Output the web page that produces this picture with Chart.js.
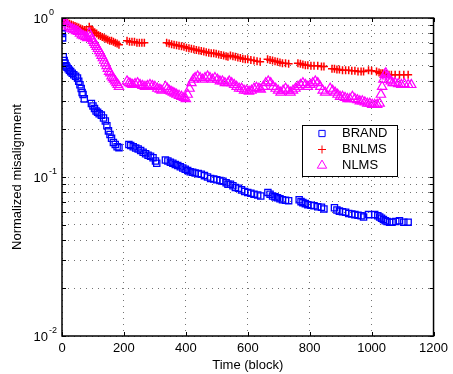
<!DOCTYPE html>
<html>
<head>
<meta charset="utf-8">
<script src="https://cdn.jsdelivr.net/npm/chart.js@4.4.0/dist/chart.umd.min.js"></script>
<style>
  html, body { margin: 0; padding: 0; background: #fff; }
  canvas { display: block; }
</style>
</head>
<body>
<canvas id="myChart" width="453" height="374"></canvas>
<script>
const FONT = "'Liberation Sans', Arial, sans-serif";

// ---- data ----
const seriesNames = ['BRAND', 'BNLMS', 'NLMS'];

const brandT = [0, 1, 2,
  4, 7, 10, 13, 16, 20, 24, 28, 33, 38, 44, 50, 54, 58, 62, 65, 68, 72,
  95, 100, 105, 110, 115, 120, 127, 134, 140, 145, 150, 155, 160, 166, 172, 178, 184,
  216, 222, 230, 238, 246, 254, 262, 270, 278, 286, 294, 302, 306,
  334, 342, 350, 358, 366, 374, 382, 390, 398, 406, 414, 422, 430, 440, 450, 460, 470, 480, 490, 500, 510, 520, 530, 536,
  544, 552, 560, 570, 580, 590, 600, 610, 620, 632, 642,
  665, 672, 680, 688, 696, 704, 712, 722, 732,
  766, 772, 778, 786, 794, 804, 814, 826, 838, 846,
  880, 888, 896, 906, 916, 926, 936, 946, 956, 966, 974,
  990, 1010, 1020, 1026, 1032, 1038, 1044, 1050, 1058, 1066, 1078, 1090, 1104, 1118];
const brandV = [0.87, 0.80, 0.75,
  0.57, 0.54, 0.52, 0.50, 0.49, 0.48, 0.47, 0.46, 0.45, 0.44, 0.43, 0.42, 0.40, 0.38, 0.36, 0.34, 0.33, 0.31,
  0.29, 0.28, 0.27, 0.26, 0.255, 0.25, 0.245, 0.235, 0.225, 0.21, 0.195, 0.185, 0.175, 0.165, 0.16, 0.155, 0.153,
  0.16, 0.158, 0.155, 0.152, 0.15, 0.147, 0.143, 0.14, 0.137, 0.135, 0.132, 0.126, 0.122,
  0.128, 0.126, 0.124, 0.122, 0.12, 0.118, 0.116, 0.114, 0.112, 0.11, 0.108, 0.107, 0.106, 0.105, 0.104, 0.102, 0.1, 0.098, 0.097, 0.096, 0.095, 0.094, 0.092, 0.09,
  0.09, 0.088, 0.086, 0.085, 0.083, 0.081, 0.08, 0.079, 0.078, 0.077, 0.076,
  0.08, 0.078, 0.076, 0.075, 0.074, 0.073, 0.072, 0.0715, 0.071,
  0.072, 0.07, 0.069, 0.068, 0.067, 0.0665, 0.066, 0.065, 0.0645, 0.063,
  0.064, 0.062, 0.061, 0.0605, 0.06, 0.059, 0.0585, 0.058, 0.0575, 0.057, 0.056,
  0.058, 0.058, 0.057, 0.056, 0.055, 0.054, 0.053, 0.0525, 0.052, 0.052, 0.0525, 0.053, 0.052, 0.052];

const bnlmsT = [0, 6, 12, 18, 24, 30, 36, 42, 48, 54, 60, 66, 72, 78,
  88, 94, 100, 106, 112, 118, 124, 130, 136, 142, 148, 154, 160, 166, 172, 178, 184,
  210, 218, 226, 234, 242, 250, 258, 266,
  338, 346, 354, 362, 370, 378, 386, 394, 402, 410, 418, 426, 434, 442, 450, 458, 466, 474, 482, 490, 498, 506, 514, 522, 530, 536,
  544, 552, 560, 568, 576, 584, 592, 600, 610, 620, 630, 640,
  664, 672, 680, 688, 696, 704, 712, 722, 732,
  762, 770, 778, 786, 794, 804, 814, 826, 838, 846,
  872, 880, 888, 896, 906, 916, 926, 936, 946, 956, 966, 974,
  990, 1000, 1016, 1024, 1030, 1036, 1042, 1048, 1056, 1064, 1076, 1090, 1104, 1118];
const bnlmsV = [0.97, 0.95, 0.94, 0.93, 0.92, 0.91, 0.9, 0.89, 0.88, 0.87, 0.86, 0.85, 0.84, 0.83,
  0.88, 0.85, 0.83, 0.81, 0.8, 0.78, 0.77, 0.76, 0.75, 0.74, 0.73, 0.72, 0.72, 0.71, 0.7, 0.69, 0.68,
  0.72, 0.71, 0.71, 0.71, 0.70, 0.70, 0.70, 0.70,
  0.70, 0.69, 0.685, 0.68, 0.675, 0.67, 0.665, 0.66, 0.65, 0.645, 0.64, 0.635, 0.63, 0.625, 0.62, 0.615, 0.61, 0.605, 0.60, 0.60, 0.595, 0.59, 0.585, 0.58, 0.575, 0.57,
  0.58, 0.575, 0.57, 0.565, 0.56, 0.555, 0.55, 0.55, 0.545, 0.54, 0.535, 0.53,
  0.55, 0.545, 0.54, 0.535, 0.53, 0.525, 0.52, 0.52, 0.515,
  0.52, 0.515, 0.51, 0.505, 0.505, 0.5, 0.5, 0.5, 0.495, 0.495,
  0.48, 0.48, 0.475, 0.475, 0.47, 0.47, 0.47, 0.465, 0.465, 0.46, 0.46, 0.46,
  0.47, 0.465, 0.46, 0.455, 0.45, 0.45, 0.445, 0.445, 0.44, 0.44, 0.44, 0.44, 0.44, 0.44];

const nlmsT = [0, 5, 10, 16, 22, 28, 34, 40, 46, 52, 58, 64, 70, 76, 82, 88, 92, 96, 100, 104,
  108, 112, 116, 120, 124, 128, 132, 136, 140, 144, 148, 152, 156, 160, 164, 168, 172, 176, 180, 184,
  210, 216, 222, 228, 236, 244, 252, 260, 268, 276, 284, 292, 300, 308, 316, 322,
  334, 340, 346, 352, 358, 364, 370, 378, 386, 394, 400, 406, 412, 418, 424, 430, 438, 446, 454, 462,
  470, 478, 486, 494, 502, 510, 518, 526, 536,
  540, 548, 556, 564, 572, 580, 588, 596, 604, 612, 620, 628, 636, 642,
  650, 658, 666, 674, 682, 690, 698, 706, 714, 722, 730, 738, 746, 754, 762, 770, 778, 786, 794, 802, 810, 818, 826, 834, 842, 850,
  866, 874, 882, 890, 898, 906, 914, 922, 930, 938, 946, 954, 962, 970, 978, 986, 994, 1002, 1010, 1018, 1026,
  1030, 1034, 1038, 1042, 1046, 1050, 1056, 1062, 1068, 1076, 1086, 1096, 1106, 1118, 1128];
const nlmsV = [0.95, 0.97, 0.93, 0.9, 0.88, 0.86, 0.85, 0.84, 0.83, 0.82, 0.8, 0.78, 0.77, 0.76, 0.75, 0.8, 0.77, 0.74, 0.72, 0.7,
  0.68, 0.66, 0.64, 0.62, 0.6, 0.58, 0.56, 0.54, 0.52, 0.5, 0.48, 0.46, 0.45, 0.43, 0.42, 0.41, 0.4, 0.39, 0.38, 0.37,
  0.4, 0.39, 0.385, 0.38, 0.385, 0.39, 0.38, 0.375, 0.37, 0.375, 0.38, 0.375, 0.37, 0.36, 0.355, 0.35,
  0.37, 0.36, 0.35, 0.345, 0.34, 0.335, 0.33, 0.325, 0.32, 0.315, 0.31, 0.33, 0.36, 0.39, 0.41, 0.42, 0.43, 0.42, 0.41, 0.42,
  0.43, 0.42, 0.41, 0.42, 0.41, 0.4, 0.4, 0.39, 0.39,
  0.4, 0.39, 0.38, 0.37, 0.36, 0.36, 0.35, 0.35, 0.345, 0.35, 0.36, 0.365, 0.36, 0.355,
  0.37, 0.39, 0.4, 0.39, 0.37, 0.36, 0.35, 0.34, 0.35, 0.36, 0.35, 0.34, 0.35, 0.36, 0.37, 0.38, 0.39, 0.38, 0.37, 0.38, 0.39, 0.40, 0.39, 0.37, 0.35, 0.34,
  0.36, 0.35, 0.34, 0.33, 0.32, 0.32, 0.315, 0.31, 0.31, 0.32, 0.31, 0.305, 0.3, 0.3, 0.295, 0.29, 0.29, 0.285, 0.285, 0.285, 0.29,
  0.33, 0.37, 0.41, 0.44, 0.45, 0.43, 0.41, 0.4, 0.39, 0.39, 0.385, 0.38, 0.385, 0.38, 0.38];

// axis ticks
const xTicks = [0, 200, 400, 600, 800, 1000, 1200];
const yTicks = [0.01, 0.02, 0.03, 0.04, 0.05, 0.06, 0.07, 0.08, 0.09,
  0.1, 0.2, 0.3, 0.4, 0.5, 0.6, 0.7, 0.8, 0.9, 1];
const yMajor = [1, 0.1, 0.01];
const yExponents = ['0', '-1', '-2'];

const colors = ['#0000ff', '#ff0000', '#ff00ff'];
const styles = ['rect', 'cross', 'triangle'];
const radii = [4.4, 4, 5.4];
const widths = [1.3, 1.5, 1.2];

const toPoints = (xs, ys) => xs.map((x, i) => ({x: x, y: ys[i]}));

function drawMarker(ctx, style, r, cx, cy) {
  ctx.beginPath();
  if (style === 'rect') {
    const s = r * Math.SQRT1_2;
    ctx.rect(cx - s, cy - s, 2 * s, 2 * s);
  } else if (style === 'cross') {
    ctx.moveTo(cx - r, cy); ctx.lineTo(cx + r, cy);
    ctx.moveTo(cx, cy - r); ctx.lineTo(cx, cy + r);
  } else {
    const a = Math.PI * 2 / 3;
    ctx.moveTo(cx, cy - r);
    ctx.lineTo(cx + Math.sin(a) * r, cy - Math.cos(a) * r);
    ctx.lineTo(cx + Math.sin(2 * a) * r, cy - Math.cos(2 * a) * r);
    ctx.closePath();
  }
  ctx.stroke();
}

/*********************** frame, ticks, y labels, legend *******************/
const matlabAxes = {
  id: 'matlabAxes',
  afterDraw(chart) {
    const {ctx, chartArea: {left, right, top, bottom}, scales: {x, y}} = chart;
    ctx.save();
    // inner tick marks
    ctx.strokeStyle = '#000';
    ctx.lineWidth = 1;
    ctx.beginPath();
    yTicks.forEach(v => {
      const py = Math.round(y.getPixelForValue(v)) + 0.5;
      ctx.moveTo(left, py); ctx.lineTo(left + 4, py);
      ctx.moveTo(right, py); ctx.lineTo(right - 4, py);
    });
    xTicks.forEach(v => {
      const px = Math.round(x.getPixelForValue(v)) + 0.5;
      ctx.moveTo(px, bottom); ctx.lineTo(px, bottom - 4);
      ctx.moveTo(px, top); ctx.lineTo(px, top + 4);
    });
    ctx.stroke();
    // box
    ctx.lineWidth = 1.5;
    ctx.strokeRect(left, top, right - left, bottom - top);

    // y tick labels 10^k
    ctx.fillStyle = '#000';
    ctx.textBaseline = 'middle';
    yMajor.forEach((v, i) => {
      const py = y.getPixelForValue(v);
      ctx.font = '13px ' + FONT;
      ctx.textAlign = 'right';
      ctx.fillText('10', 48, py + 1);
      ctx.font = '9px ' + FONT;
      ctx.textAlign = 'left';
      ctx.fillText(yExponents[i], 49, py - 5);
    });

    // legend
    const lx = 302.5, ly = 125.5, lw = 95, lh = 51;
    ctx.fillStyle = '#fff';
    ctx.fillRect(lx, ly, lw, lh);
    ctx.lineWidth = 1;
    ctx.strokeStyle = '#000';
    ctx.strokeRect(lx, ly, lw, lh);
    const rows = [133.5, 149.5, 165.5];
    seriesNames.forEach((name, i) => {
      ctx.strokeStyle = colors[i];
      ctx.lineWidth = 1;
      drawMarker(ctx, styles[i], radii[i], 322, rows[i]);
      ctx.fillStyle = '#000';
      ctx.font = '13px ' + FONT;
      ctx.textAlign = 'left';
      ctx.textBaseline = 'middle';
      ctx.fillText(name, 342, rows[i]);
    });
    ctx.restore();
  }
};

const gridOpts = { color: 'rgba(0,0,0,0.55)', lineWidth: 1, drawTicks: false };

const ctx = document.getElementById('myChart').getContext('2d');
const myChart = new Chart(ctx, {
  type: 'scatter',
  data: {
    datasets: [
      {label: seriesNames[0], data: toPoints(brandT, brandV), order: 2},
      {label: seriesNames[1], data: toPoints(bnlmsT, bnlmsV), order: 1},
      {label: seriesNames[2], data: toPoints(nlmsT, nlmsV), order: 0}
    ].map((d, i) => Object.assign(d, {
      showLine: false,
      pointStyle: styles[i],
      pointRadius: radii[i],
      pointHoverRadius: radii[i],
      borderColor: colors[i],
      backgroundColor: 'rgba(0,0,0,0)',
      pointBorderWidth: widths[i]
    }))
  },
  options: {
    responsive: false,
    animation: false,
    events: [],
    layout: { padding: { left: 0, top: 18, right: 16, bottom: 0 } },
    plugins: {
      legend: { display: false },
      tooltip: { enabled: false }
    },
    scales: {
      x: {
        type: 'linear',
        min: 0,
        max: 1200,
        afterBuildTicks: s => { s.ticks = xTicks.map(v => ({value: v})); },
        afterFit: s => { s.height = 38; },
        grid: gridOpts,
        border: { display: false, dash: [1, 5] },
        ticks: {
          color: '#000', font: { family: FONT, size: 13 }, padding: 5, maxRotation: 0, autoSkip: false,
          callback: value => String(value)
        },
        title: { display: true, text: 'Time (block)', color: '#000', font: { family: FONT, size: 13 }, padding: { top: 0, bottom: 1 } }
      },
      y: {
        type: 'logarithmic',
        min: 0.01,
        max: 1,
        afterBuildTicks: s => { s.ticks = yTicks.map(v => ({value: v})); },
        afterFit: s => { s.width = 62; },
        grid: gridOpts,
        border: { display: false, dash: [1, 5] },
        ticks: { display: false },
        title: { display: true, text: 'Normalized misalignment', color: '#000', font: { family: FONT, size: 13 }, padding: { top: 10, bottom: 0 } }
      }
    }
  },
  plugins: [matlabAxes]
});
</script>
</body>
</html>
